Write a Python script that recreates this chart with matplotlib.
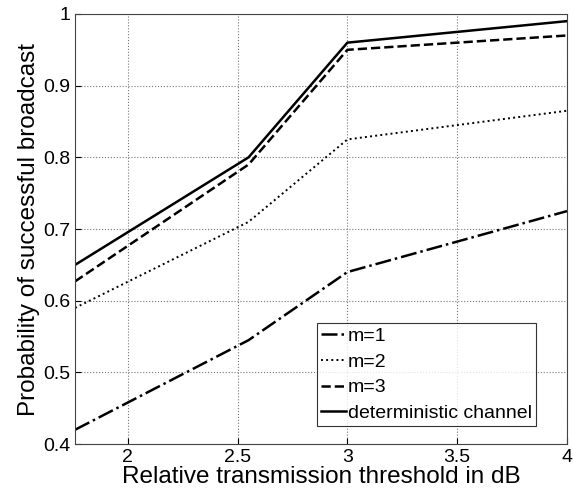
import matplotlib
matplotlib.use("Agg")
import matplotlib.pyplot as plt

plt.rcParams['font.family'] = ['Liberation Sans', 'DejaVu Sans']

x = [1.76, 2.55, 3.0, 4.0]
m1 = [0.42, 0.545, 0.64, 0.725]
m2 = [0.59, 0.71, 0.825, 0.865]
m3 = [0.627, 0.79, 0.95, 0.97]
det = [0.65, 0.80, 0.96, 0.99]
xticks = [2, 2.5, 3, 3.5, 4]
yticks = [0.4, 0.5, 0.6, 0.7, 0.8, 0.9, 1.0]
yticklabels = ['0.4', '0.5', '0.6', '0.7', '0.8', '0.9', '1']

fig = plt.figure(figsize=(5.73, 4.99), dpi=100)
ax = fig.add_axes([0.131, 0.110, 0.8585, 0.862])
ax.plot(x, m1, color='black', linestyle='-.', lw=1.8, label='m=1')
ax.plot(x, m2, color='black', linestyle=':', lw=1.4, label='m=2')
ax.plot(x, m3, color='black', linestyle='--', lw=1.8, label='m=3')
ax.plot(x, det, color='black', linestyle='-', lw=1.8, label='deterministic channel')
ax.set_xlim(1.76, 4)
ax.set_ylim(0.4, 1)
ax.set_xticks(xticks)
ax.set_xticklabels([f'{t:g}' for t in xticks])
ax.set_yticks(yticks)
ax.set_yticklabels(yticklabels)
ax.tick_params(labelsize=14, direction='in', length=4)
ax.grid(True, linestyle=':', color='#777777', lw=0.8)
ax.set_xlabel('Relative transmission threshold in dB', fontsize=17.5, labelpad=0)
ax.set_ylabel('Probability of successful broadcast', fontsize=17.5, labelpad=2)
for s in ax.spines.values():
    s.set_color('#444444')
leg = ax.legend(loc='lower right', fontsize=14, fancybox=False, edgecolor='black',
                handlelength=1.3, handletextpad=0.1, borderpad=0.2, labelspacing=0.42,
                borderaxespad=0.0, bbox_to_anchor=(0.937, 0.042))
leg.get_frame().set_linewidth(0.8)
fig.savefig('out.png', dpi=100)
